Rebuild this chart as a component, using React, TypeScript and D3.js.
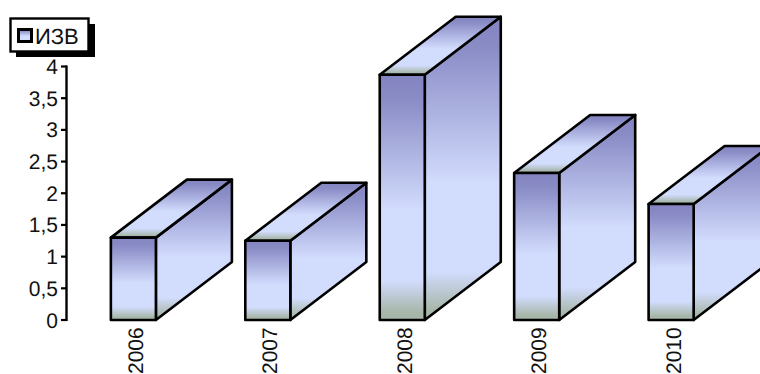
import React from "react";
import * as d3 from "d3";

const categories = ["2006", "2007", "2008", "2009", "2010"];
const values = [1.3, 1.25, 3.87, 2.32, 1.83];
const yTicks = [0, 0.5, 1, 1.5, 2, 2.5, 3, 3.5, 4];
const seriesName = "ИЗВ";

const WIDTH = 760;
const HEIGHT = 374;
const FONT = "'Liberation Sans', Arial, sans-serif";
const DEPTH_X = 76;
const DEPTH_Y = 58;
const INK = "#000";

const y = d3.scaleLinear().domain([0, 4]).range([320, 66.5]);
const x = d3
  .scaleBand<string>()
  .domain(categories)
  .range([66.5, 738])
  .paddingInner(0.665)
  .paddingOuter(0.33);

const tickFormat = (t: number) => String(t).replace(".", ",");

const polyPath = d3.line<[number, number]>().curve(d3.curveLinearClosed);

// Shared vertical shading for every face of the boxes.
function FaceGradient({ id }: { id: string }) {
  return (
    <linearGradient id={id} x1="0" y1="0" x2="0" y2="1">
      <stop offset="0" stopColor="#8484c0" />
      <stop offset="0.1" stopColor="#8a8cc6" />
      <stop offset="0.55" stopColor="#d2dcfd" />
      <stop offset="0.84" stopColor="#d2dcfd" />
      <stop offset="0.97" stopColor="#a6b6a8" />
      <stop offset="1" stopColor="#a6b6a8" />
    </linearGradient>
  );
}

function Box({ category, value }: { category: string; value: number }) {
  const x0 = x(category)!;
  const x1 = x0 + x.bandwidth();
  const top = y(value);
  const base = y(0);
  const front: [number, number][] = [
    [x0, top],
    [x1, top],
    [x1, base],
    [x0, base],
  ];
  const roof: [number, number][] = [
    [x0, top],
    [x0 + DEPTH_X, top - DEPTH_Y],
    [x1 + DEPTH_X, top - DEPTH_Y],
    [x1, top],
  ];
  const side: [number, number][] = [
    [x1, top],
    [x1 + DEPTH_X, top - DEPTH_Y],
    [x1 + DEPTH_X, base - DEPTH_Y],
    [x1, base],
  ];
  const faceStyle = { stroke: INK, strokeWidth: 2.6, strokeLinejoin: "round" as const };
  return (
    <g>
      <path d={polyPath(side)!} fill="url(#face)" {...faceStyle} />
      <path d={polyPath(roof)!} fill="url(#face)" {...faceStyle} />
      <path d={polyPath(front)!} fill="url(#face)" {...faceStyle} />
    </g>
  );
}

export default function App() {
  return (
    <svg
      width={WIDTH}
      height={HEIGHT}
      viewBox={`0 0 ${WIDTH} ${HEIGHT}`}
      textRendering="geometricPrecision"
      style={{ position: "absolute", left: 0, top: 0, background: "#fff", fontFamily: FONT }}
    >
      <defs>
        <FaceGradient id="face" />
      </defs>

      {/* value axis */}
      <line x1={66.5} x2={66.5} y1={y(4) - 1} y2={y(0) + 1} stroke={INK} strokeWidth={2.4} />
      {yTicks.map((t) => (
        <g key={t}>
          <line x1={61} x2={67} y1={y(t)} y2={y(t)} stroke={INK} strokeWidth={2.2} />
          <text x={58} y={y(t) + 7.5} textAnchor="end" fontSize={21} fill="#111">
            {tickFormat(t)}
          </text>
        </g>
      ))}

      {/* boxes */}
      {categories.map((c, i) => (
        <Box key={c} category={c} value={values[i]} />
      ))}

      {/* category labels */}
      {categories.map((c) => (
        <text
          key={c}
          transform={`translate(${x(c)! + x.bandwidth() / 2 + 9.5},374) rotate(-90)`}
          fontSize={21}
          fill="#111"
        >
          {c}
        </text>
      ))}

      {/* legend */}
      <rect x={16} y={24} width={79} height={33} fill="#000" />
      <rect x={10.5} y={18.5} width={78} height={33} fill="#fff" stroke={INK} strokeWidth={2.4} />
      <rect x={18.5} y={29.5} width={13} height={12} fill="url(#face)" stroke={INK} strokeWidth={3} />
      <text x={35} y={43.5} fontSize={22} fill="#111">
        {seriesName}
      </text>
    </svg>
  );
}
